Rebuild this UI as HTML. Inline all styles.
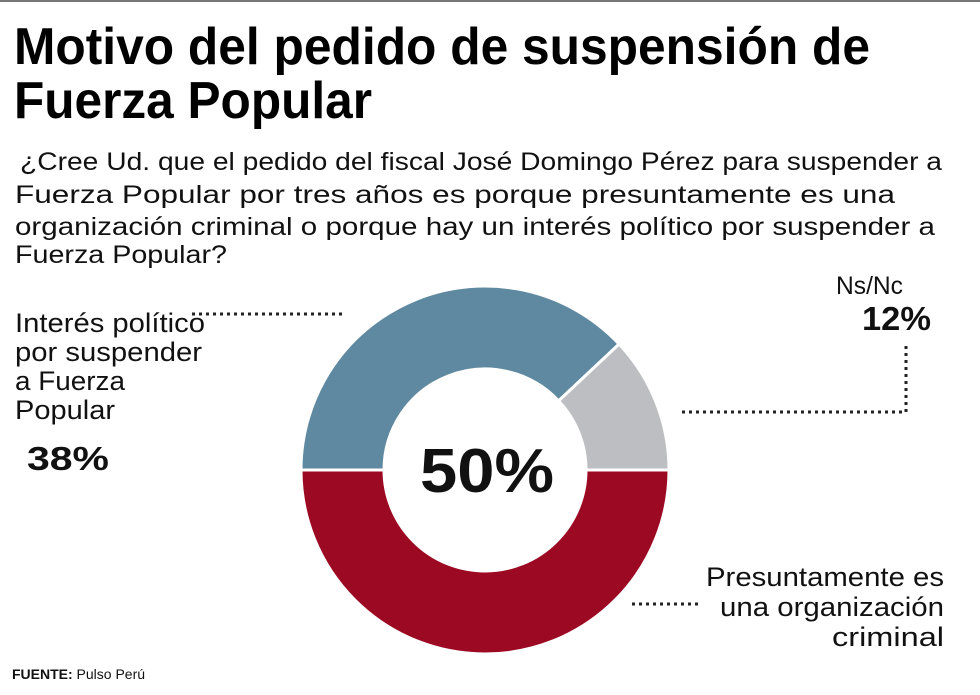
<!DOCTYPE html>
<html><head><meta charset="utf-8"><style>
html,body{margin:0;padding:0;background:#fff;}
svg{display:block;font-family:"Liberation Sans",sans-serif;}
</style></head><body>
<svg id="chart" width="980" height="695" viewBox="0 0 980 695" xmlns="http://www.w3.org/2000/svg">
<rect x="0" y="0" width="980" height="695" fill="#fff"/>
<line x1="0" y1="1" x2="980" y2="1" stroke="#777" stroke-width="2"/>
<g font-weight="bold" font-size="52" fill="#000">
<text x="14" y="64" textLength="856" lengthAdjust="spacingAndGlyphs">Motivo del pedido de suspensión de</text>
<text x="14" y="118" textLength="358" lengthAdjust="spacingAndGlyphs">Fuerza Popular</text>
</g>
<g font-size="25" fill="#111">
<text x="20" y="170" textLength="922" lengthAdjust="spacingAndGlyphs">¿Cree Ud. que el pedido del fiscal José Domingo Pérez para suspender a</text>
<text x="15" y="203" textLength="880" lengthAdjust="spacingAndGlyphs">Fuerza Popular por tres años es porque presuntamente es una</text>
<text x="15" y="235" textLength="920" lengthAdjust="spacingAndGlyphs">organización criminal o porque hay un interés político por suspender a</text>
<text x="15" y="263" textLength="212" lengthAdjust="spacingAndGlyphs">Fuerza Popular?</text>
</g>
<g id="donut"></g>
<g fill="none" stroke="#222" stroke-width="3" stroke-dasharray="3 4">
<path d="M192 314 H345"/>
<path d="M906 346 V412 H680"/>
<path d="M632 604 H700"/>
</g>
<g font-size="27" fill="#111">
<text x="15" y="332" textLength="190" lengthAdjust="spacingAndGlyphs">Interés político</text>
<text x="15" y="361" textLength="187" lengthAdjust="spacingAndGlyphs">por suspender</text>
<text x="15" y="390" textLength="110" lengthAdjust="spacingAndGlyphs">a Fuerza</text>
<text x="15" y="419" textLength="100" lengthAdjust="spacingAndGlyphs">Popular</text>
<text x="27" y="470" font-weight="bold" font-size="33" textLength="82" lengthAdjust="spacingAndGlyphs" id="lbl0">38%</text>
</g>
<g fill="#111">
<text x="836" y="294" font-size="25" textLength="67" lengthAdjust="spacingAndGlyphs">Ns/Nc</text>
<text x="862" y="330" font-size="33" font-weight="bold" textLength="69" lengthAdjust="spacingAndGlyphs" id="lbl2">12%</text>
</g>
<g font-size="27" fill="#111" text-anchor="end">
<text x="944" y="586" textLength="238" lengthAdjust="spacingAndGlyphs">Presuntamente es</text>
<text x="944" y="616" textLength="224" lengthAdjust="spacingAndGlyphs">una organización</text>
<text x="944" y="646" textLength="112" lengthAdjust="spacingAndGlyphs">criminal</text>
</g>
<text id="lbl1" x="487" y="492" text-anchor="middle" font-size="62" font-weight="bold" fill="#111" textLength="134" lengthAdjust="spacingAndGlyphs">50%</text>
<text x="12" y="679" font-size="14" fill="#111"><tspan font-weight="bold">FUENTE:</tspan> Pulso Perú</text>
<script>
const categories = ["Interés político por suspender a Fuerza Popular", "Presuntamente es una organización criminal", "Ns/Nc"];
const values = [38, 50, 12];
const colors = ["#5e89a1", "#9b0a22", "#bdbec1"];
const cx = 485, cy = 470, R = 184, r = 101;
const g = document.getElementById('donut');
const total = values.reduce((a,b)=>a+b,0);
function pt(angDeg, rad){ const a = (angDeg-90)*Math.PI/180; return [cx+rad*Math.cos(a), cy+rad*Math.sin(a)]; }
const order = [0, 2, 1];
let start = 270;
order.forEach(i => {
  const sweep = values[i]/total*360;
  const end = start + sweep;
  const [x1,y1] = pt(start,R), [x2,y2] = pt(end,R), [x3,y3] = pt(end,r), [x4,y4] = pt(start,r);
  const large = sweep > 180 ? 1 : 0;
  const p = document.createElementNS('http://www.w3.org/2000/svg','path');
  p.setAttribute('d', `M${x1} ${y1} A${R} ${R} 0 ${large} 1 ${x2} ${y2} L${x3} ${y3} A${r} ${r} 0 ${large} 0 ${x4} ${y4} Z`);
  p.setAttribute('fill', colors[i]);
  p.setAttribute('stroke', '#fff');
  p.setAttribute('stroke-width', '3');
  
  
  g.appendChild(p);
  start = end;
});
document.getElementById('lbl0').textContent = values[0] + '%';
document.getElementById('lbl1').textContent = values[1] + '%';
document.getElementById('lbl2').textContent = values[2] + '%';
</script>
</svg>
</body></html>
